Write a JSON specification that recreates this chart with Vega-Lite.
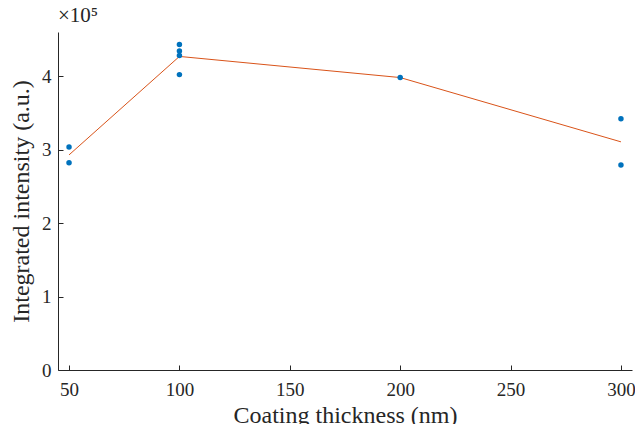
{
  "$schema": "https://vega.github.io/schema/vega-lite/v6.json",
  "width": 574,
  "height": 338,
  "autosize": "none",
  "padding": {"left": 58, "top": 32, "right": 3, "bottom": 54},
  "background": "white",
  "config": {
    "font": "Liberation Serif",
    "view": {"stroke": null},
    "axis": {
      "grid": false,
      "domainColor": "#262626",
      "tickColor": "#262626",
      "labelColor": "#262626",
      "titleColor": "#262626",
      "labelFont": "Liberation Serif",
      "titleFont": "Liberation Serif",
      "labelFontSize": 19,
      "titleFontSize": 24,
      "titleFontWeight": "normal",
      "tickSize": -5,
      "tickWidth": 1,
      "domainWidth": 1
    }
  },
  "title": {
    "text": "×10⁵",
    "anchor": "start",
    "frame": "group",
    "fontSize": 21,
    "fontWeight": "normal",
    "font": "Liberation Serif",
    "color": "#262626",
    "offset": 6
  },
  "data": {
    "values": [
      {"thickness": 50, "intensity": 3.035},
      {"thickness": 50, "intensity": 2.82},
      {"thickness": 100, "intensity": 4.43},
      {"thickness": 100, "intensity": 4.34},
      {"thickness": 100, "intensity": 4.28},
      {"thickness": 100, "intensity": 4.02},
      {"thickness": 200, "intensity": 3.98},
      {"thickness": 300, "intensity": 3.42},
      {"thickness": 300, "intensity": 2.79}
    ]
  },
  "layer": [
    {
      "mark": {"type": "line", "color": "#D95319", "strokeWidth": 1},
      "encoding": {
        "x": {"field": "thickness", "type": "quantitative"},
        "y": {"field": "intensity", "type": "quantitative", "aggregate": "mean"}
      }
    },
    {
      "mark": {"type": "point", "filled": true, "color": "#0072BD", "size": 30, "opacity": 1},
      "encoding": {
        "x": {
          "field": "thickness",
          "type": "quantitative",
          "scale": {"domain": [45, 305], "nice": false, "zero": false},
          "axis": {"values": [50, 100, 150, 200, 250, 300], "format": "d", "title": "Coating thickness (nm)", "labelPadding": 15, "titlePadding": 4}
        },
        "y": {
          "field": "intensity",
          "type": "quantitative",
          "scale": {"domain": [0, 4.6], "nice": false},
          "axis": {"values": [0, 1, 2, 3, 4], "format": "d", "title": "Integrated intensity (a.u.)", "labelPadding": 12, "titlePadding": 8}
        }
      }
    }
  ]
}
